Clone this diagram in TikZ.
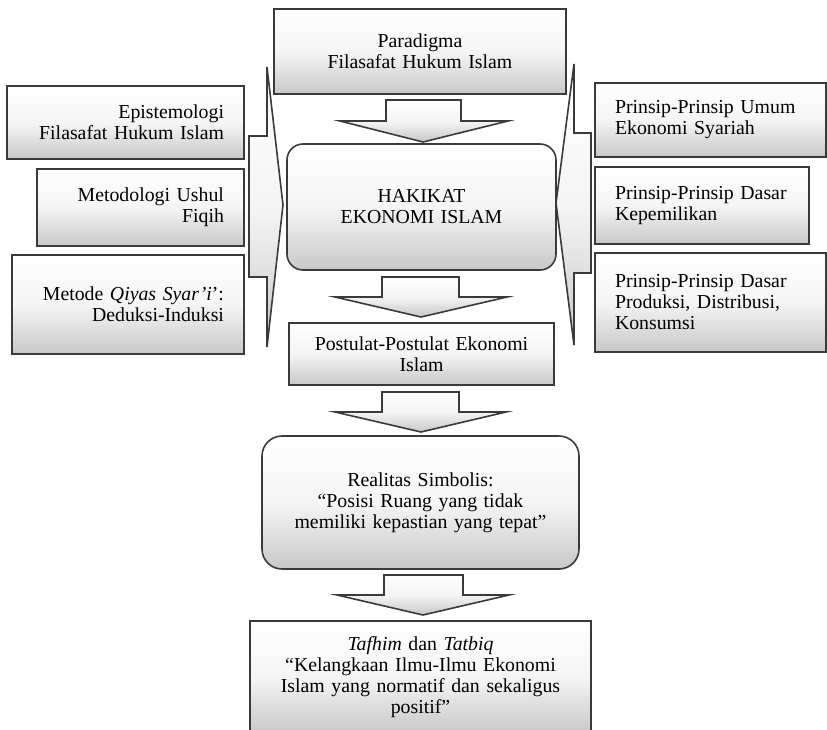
\documentclass[tikz,border=0pt]{standalone}
\usepackage{fontspec}
\setmainfont{Liberation Serif}
\definecolor{edge}{HTML}{3A3A3A}
\definecolor{shadelow}{HTML}{C8C8C8}
\begin{document}
\begin{tikzpicture}[x=1pt,y=-1pt,
  font=\fontsize{19.8}{21}\selectfont,
  shaded/.style={draw=edge, line width=1.6pt, line join=miter,
    top color=white, bottom color=shadelow, middle color=white!96!black},
  box/.style={shaded, inner xsep=20pt, inner ysep=0pt},
  rbox/.style={box, rounded corners=#1},
  blockarrow/.style={shaded}
]
\useasboundingbox (0,0) rectangle (827,729);
\begin{scope}
\clip (0,0) rectangle (827,729);

% centre column
\node[box, text width=252pt, minimum height=85pt, align=center] (para) at (420,51.5)
  {Paradigma\\Filasafat Hukum Islam};
\node[rbox=16pt, text width=229pt, minimum height=126pt, align=center] (hak) at (421.5,207)
  {HAKIKAT\\EKONOMI ISLAM};
\node[box, text width=225pt, minimum height=62pt, align=center] (post) at (421.5,354)
  {Postulat-Postulat Ekonomi\\Islam};
\node[rbox=20pt, text width=277pt, minimum height=133pt, align=center] (real) at (420.5,502.5)
  {Realitas Simbolis:\\“Posisi Ruang yang tidak\\memiliki kepastian yang tepat”};
\node[box, text width=301pt, minimum height=112pt, align=center] (taf) at (420.5,677)
  {\textit{Tafhim} dan \textit{Tatbiq}\\“Kelangkaan Ilmu-Ilmu Ekonomi\\Islam yang normatif dan sekaligus\\positif”};

% left column
\node[box, text width=197pt, minimum height=73pt, align=right] (epis) at (125.5,122.5)
  {Epistemologi\\Filasafat Hukum Islam};
\node[box, text width=167pt, minimum height=77pt, align=right] (meto) at (140.5,207.5)
  {Metodologi Ushul\\Fiqih};
\node[box, text width=192pt, minimum height=99pt, align=right] (qiyas) at (128,304.5)
  {Metode \textit{Qiyas Syar’i}’:\\Deduksi-Induksi};

% right column
\node[box, text width=191pt, minimum height=74pt, align=left] (pum) at (710.5,120)
  {Prinsip-Prinsip Umum\\Ekonomi Syariah};
\node[box, text width=174pt, minimum height=77pt, align=left] (pkep) at (702,205.5)
  {Prinsip-Prinsip Dasar\\Kepemilikan};
\node[box, text width=191pt, minimum height=99pt, align=left] (pprod) at (710.5,302.5)
  {Prinsip-Prinsip Dasar\\Produksi, Distribusi,\\Konsumsi};

% downward block arrows
\path[blockarrow] (386,100) -- (461,100) -- (461,121) -- (508,121) -- (423,142)
  -- (340,121) -- (386,121) -- cycle;
\path[blockarrow] (382,277) -- (459,277) -- (459,297) -- (507,297) -- (421,317)
  -- (335,297) -- (382,297) -- cycle;
\path[blockarrow] (382,392) -- (459,392) -- (459,412) -- (506,412) -- (421,432)
  -- (335,412) -- (382,412) -- cycle;
\path[blockarrow] (384,575) -- (463,575) -- (463,595) -- (509,595) -- (423,615)
  -- (337,595) -- (384,595) -- cycle;

% side block arrows pointing at the core box
\path[blockarrow] (249,136) -- (267,136) -- (267,67) -- (283,205) -- (267,347)
  -- (267,277) -- (249,277) -- cycle;
\path[blockarrow] (591,133) -- (574,133) -- (574,64) -- (556,203) -- (574,345)
  -- (574,273) -- (591,273) -- cycle;
\end{scope}
\end{tikzpicture}
\end{document}
